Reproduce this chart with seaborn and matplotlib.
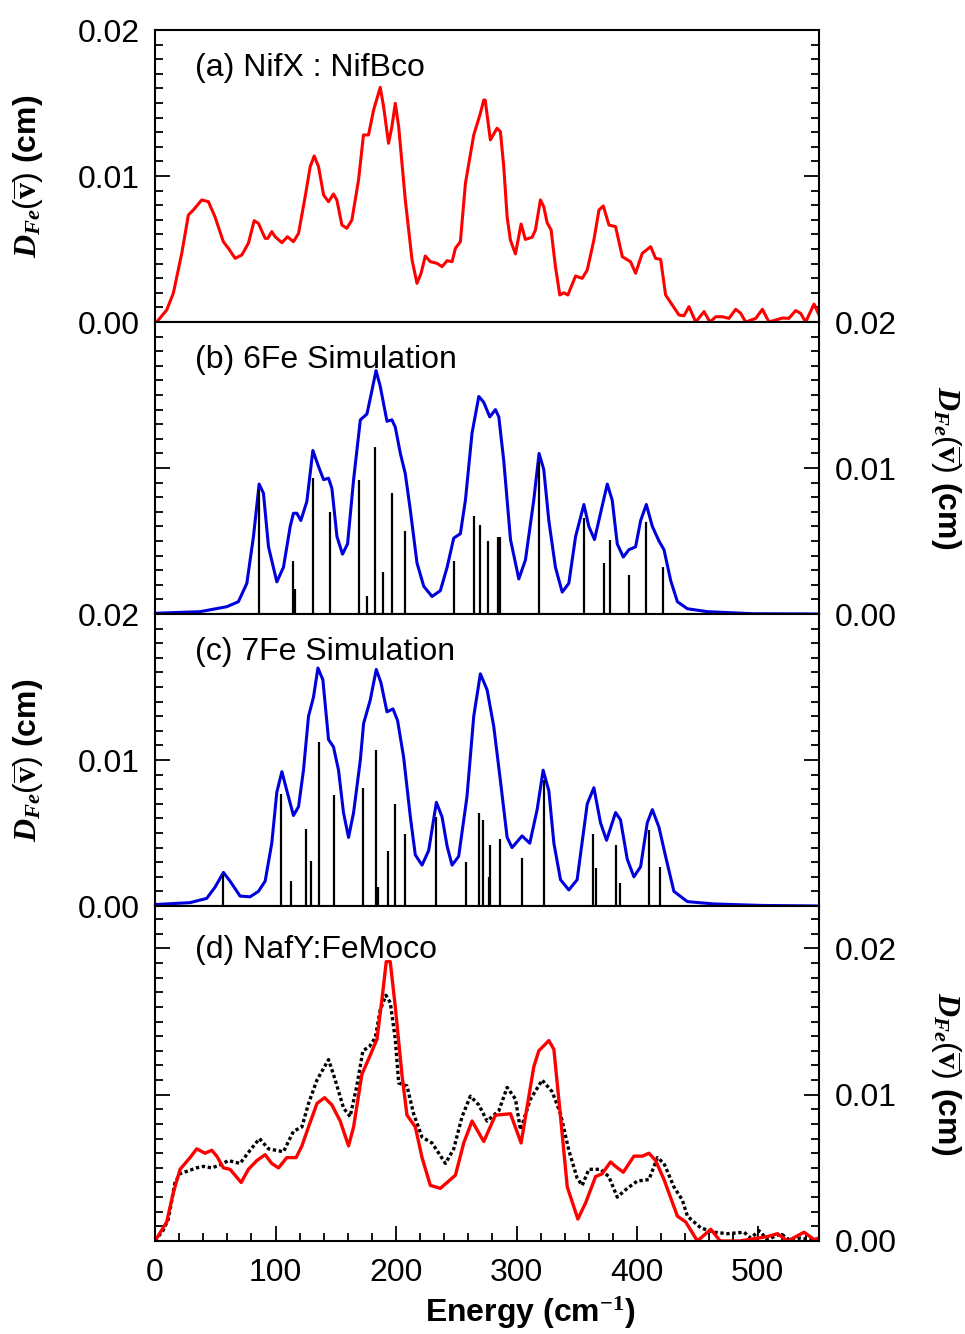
import matplotlib
matplotlib.use("Agg")
import matplotlib.pyplot as plt
from matplotlib.ticker import MultipleLocator, FormatStrFormatter
import numpy as np
import pandas as pd
import seaborn as sns

# ---------------- (a) NifX : NifBco, measured PVDOS ----------------
nifx_energy = [1.4, 9.7, 15.2, 22.2, 27.7, 31.8, 38.8, 44.3, 49.8, 56.7, 60.9, 66.5, 72.0, 77.5,
               82.3, 85.8, 91.4, 93.6, 96.9, 99.7, 105.3, 109.9, 114.9, 119.1, 124.6, 128.8, 132.1,
               135.7, 139.9, 144.0, 148.1, 150.9, 155.1, 159.2, 163.4, 168.9, 173.0, 177.2, 181.4,
               186.9, 189.7, 193.8, 196.6, 199.4, 202.2, 207.7, 213.3, 217.4, 220.8, 224.3, 228.5,
               234.0, 238.2, 242.4, 246.5, 249.3, 253.4, 257.6, 264.5, 270.0, 272.8, 274.0, 278.3,
               283.8, 286.6, 289.4, 292.2, 294.9, 299.1, 303.8, 307.3, 312.9, 315.7, 319.8, 322.6,
               325.4, 328.7, 332.3, 335.9, 339.3, 342.6, 349.0, 354.5, 358.7, 364.2, 368.4, 372.0,
               376.7, 382.2, 387.8, 394.6, 398.8, 404.3, 411.3, 415.4, 419.6, 423.7, 429.3, 434.8,
               439.0, 443.1, 448.7, 455.6, 460.5, 465.3, 470.8, 476.3, 481.9, 486.0, 490.2, 498.5,
               504.0, 509.5, 520.6, 526.0, 531.6, 535.7, 539.9, 546.9, 551.0]
nifx_pvdos = [0.0, 0.00082, 0.00197, 0.0047, 0.00733, 0.00767, 0.00836, 0.00824, 0.0072, 0.0055,
              0.00505, 0.00436, 0.00459, 0.00539, 0.00694, 0.00676, 0.00573, 0.00573, 0.00619,
              0.00584, 0.00543, 0.00584, 0.0055, 0.00607, 0.00858, 0.01064, 0.01137, 0.01064,
              0.0087, 0.00824, 0.00877, 0.00836, 0.00664, 0.00642, 0.00699, 0.00973, 0.01281,
              0.01281, 0.01452, 0.01607, 0.01475, 0.01224, 0.01338, 0.01498, 0.01338, 0.00836,
              0.00425, 0.00265, 0.00334, 0.00452, 0.00413, 0.00402, 0.00379, 0.0042, 0.00413,
              0.00505, 0.0055, 0.0095, 0.01281, 0.01429, 0.0152, 0.0152, 0.01247, 0.01327, 0.01304,
              0.01064, 0.0072, 0.00562, 0.00466, 0.00671, 0.00566, 0.0058, 0.0063, 0.00836, 0.0079,
              0.0068, 0.0063, 0.00379, 0.00185, 0.002, 0.00185, 0.00315, 0.00299, 0.00356, 0.00562,
              0.00767, 0.00795, 0.00664, 0.00653, 0.00447, 0.00413, 0.00334, 0.0047, 0.00516,
              0.00436, 0.00429, 0.00185, 0.00116, 0.00048, 0.00043, 0.00105, 0.0, 0.00071, 0.0,
              0.00036, 0.00036, 0.00025, 0.00087, 0.0006, 0.0, 0.00025, 0.00087, 0.0, 0.00027,
              0.00025, 0.00078, 0.0006, 0.0, 0.00123, 0.00048]

# ---------------- (b) 6Fe simulation ----------------
sim6_energy = [0.0, 37.4, 59.6, 69.2, 76.2, 81.7, 86.4, 90.0, 94.2, 101.1, 106.6, 112.2, 114.9,
               117.7, 121.0, 126.0, 131.0, 135.7, 139.9, 144.0, 146.8, 151.0, 155.6, 159.8, 164.8,
               170.4, 175.9, 180.0, 183.4, 186.9, 192.5, 196.6, 199.4, 203.6, 207.7, 211.9, 217.4,
               223.0, 229.9, 236.8, 242.4, 247.9, 253.4, 257.6, 263.1, 268.7, 272.8, 277.8, 282.5,
               285.3, 289.4, 295.0, 301.9, 307.4, 314.3, 318.7, 322.6, 326.8, 332.3, 337.9, 343.4,
               349.0, 355.9, 360.0, 364.7, 369.7, 375.3, 379.4, 383.6, 388.6, 393.2, 398.8, 403.0,
               407.7, 412.7, 418.2, 422.4, 427.9, 433.5, 441.8, 458.4, 496.0, 551.0]
sim6_pvdos = [0.00005, 0.00016, 0.0005, 0.00084, 0.0021, 0.0053, 0.0089, 0.00827, 0.0046, 0.0022,
              0.0032, 0.006, 0.0069, 0.0069, 0.0064, 0.0077, 0.0112, 0.0101, 0.0092, 0.0093,
              0.0086, 0.0053, 0.0041, 0.0048, 0.0092, 0.0133, 0.0137, 0.0153, 0.01667, 0.0156,
              0.0132, 0.0133, 0.0128, 0.011, 0.0096, 0.0071, 0.0035, 0.0019, 0.0012, 0.0016,
              0.0032, 0.0052, 0.0055, 0.0078, 0.0124, 0.0149, 0.0145, 0.0135, 0.014, 0.0135,
              0.0105, 0.0051, 0.0024, 0.0037, 0.0078, 0.011, 0.0099, 0.0064, 0.0032, 0.0015,
              0.0021, 0.0053, 0.0075, 0.006, 0.0051, 0.0069, 0.0089, 0.0078, 0.0048, 0.0039,
              0.0044, 0.0046, 0.0064, 0.0075, 0.006, 0.005, 0.0044, 0.0023, 0.00084, 0.00036,
              0.00016, 0.00002, 0.0]
modes6_energy = [86.4, 114.9, 116.3, 131.0, 144.9, 169.5, 175.9, 182.8, 189.2, 196.9, 207.2,
                 248.4, 264.5, 270.0, 276.1, 284.4, 286.0, 319.0, 355.9, 372.5, 377.2, 393.5,
                 407.7, 421.2]
modes6_weight = [0.0085, 0.00365, 0.0017, 0.0093, 0.007, 0.0092, 0.0012, 0.01146, 0.0029, 0.0083,
                 0.0057, 0.00365, 0.0067, 0.0061, 0.005, 0.0053, 0.0053, 0.0104, 0.0066, 0.0035,
                 0.0051, 0.0027, 0.0063, 0.0032]

# ---------------- (c) 7Fe simulation ----------------
sim7_energy = [0.0, 29.1, 42.9, 49.9, 56.8, 62.3, 70.6, 78.9, 85.8, 91.4, 96.9, 101.1, 105.3,
               109.4, 114.9, 119.1, 123.2, 127.4, 131.5, 135.2, 139.3, 144.0, 148.1, 152.3, 156.4,
               160.6, 164.8, 170.4, 173.1, 178.6, 183.6, 187.5, 192.5, 197.5, 201.3, 206.3, 211.9,
               216.0, 221.6, 227.1, 233.5, 238.2, 242.4, 246.5, 252.0, 258.9, 264.5, 270.0, 275.6,
               281.1, 286.6, 292.2, 296.3, 304.6, 311.0, 317.1, 322.1, 326.8, 331.0, 336.5, 343.4,
               350.3, 358.7, 364.2, 369.7, 374.7, 382.2, 386.3, 391.9, 397.4, 403.0, 408.5, 412.7,
               418.2, 423.7, 430.6, 441.8, 463.9, 502.7, 551.0]
sim7_pvdos = [0.0001, 0.00023, 0.00052, 0.0013, 0.0023, 0.0017, 0.00068, 0.00063, 0.001, 0.0017,
              0.0043, 0.0078, 0.0092, 0.0079, 0.0062, 0.0068, 0.0093, 0.013, 0.0143, 0.0163,
              0.0155, 0.0114, 0.0109, 0.0093, 0.0064, 0.0047, 0.0064, 0.01, 0.0125, 0.0141, 0.0162,
              0.0153, 0.0133, 0.0135, 0.0127, 0.0102, 0.0061, 0.0035, 0.0028, 0.0038, 0.0071,
              0.0061, 0.0041, 0.0028, 0.0034, 0.0075, 0.013, 0.0159, 0.0148, 0.0123, 0.0086,
              0.0047, 0.004, 0.0048, 0.0043, 0.0066, 0.0093, 0.0079, 0.0043, 0.0018, 0.0011,
              0.0018, 0.007, 0.0081, 0.0057, 0.0045, 0.0064, 0.0059, 0.0032, 0.002, 0.0027,
              0.0057, 0.0066, 0.0054, 0.0034, 0.001, 0.0003, 0.00014, 0.00004, 0.0]
modes7_energy = [56.8, 104.4, 113.0, 125.2, 129.6, 135.7, 148.7, 172.5, 183.4, 185.0, 193.0,
                 199.4, 207.2, 233.2, 257.8, 268.7, 272.0, 277.0, 278.4, 286.1, 304.6, 322.6,
                 363.6, 365.6, 382.7, 385.5, 410.2, 418.7]
modes7_weight = [0.0021, 0.0077, 0.0017, 0.0053, 0.0031, 0.0112, 0.0076, 0.0081, 0.0107, 0.0013,
                 0.0038, 0.007, 0.0049, 0.0061, 0.003, 0.0064, 0.0059, 0.002, 0.0042, 0.0046,
                 0.0033, 0.0086, 0.0049, 0.0026, 0.0042, 0.0016, 0.0052, 0.0027]

# ---------------- (d) NafY:FeMoco (solid) with dotted comparison ----------------
nafy_energy = [0.0, 9.7, 15.2, 20.8, 29.1, 34.6, 41.5, 47.1, 51.3, 56.8, 62.3, 71.5, 77.5, 84.5,
               91.4, 96.9, 102.5, 109.4, 117.1, 121.9, 127.4, 134.4, 140.7, 146.8, 153.7, 160.6,
               164.8, 171.7, 178.6, 184.2, 188.3, 191.9, 195.2, 199.4, 205.0, 209.1, 216.0, 221.6,
               228.5, 236.8, 242.4, 249.3, 256.2, 263.1, 272.8, 282.5, 295.0, 303.8, 314.3, 318.5,
               326.8, 331.0, 336.5, 342.1, 350.9, 357.3, 365.6, 371.1, 378.0, 382.2, 388.6, 397.4,
               404.4, 409.9, 415.4, 422.4, 433.5, 440.4, 450.1, 461.2, 469.0, 485.0, 508.2, 516.5,
               525.0, 538.6, 546.9, 551.0]
nafy_pvdos = [0.0, 0.0013, 0.0033, 0.0049, 0.0057, 0.0063, 0.006, 0.0062, 0.0058, 0.005, 0.0049,
              0.004, 0.0049, 0.0055, 0.0059, 0.0053, 0.005, 0.0057, 0.0057, 0.0065, 0.0078, 0.0094,
              0.0098, 0.0093, 0.0082, 0.0065, 0.0078, 0.0114, 0.0127, 0.0138, 0.0165, 0.0191,
              0.0191, 0.016, 0.0113, 0.0086, 0.0078, 0.0057, 0.0038, 0.0036, 0.004, 0.0045, 0.0067,
              0.0082, 0.0068, 0.0086, 0.0087, 0.0067, 0.0119, 0.013, 0.0137, 0.0131, 0.0085,
              0.0037, 0.0015, 0.0026, 0.0044, 0.0046, 0.0054, 0.0051, 0.0047, 0.0058, 0.0058,
              0.006, 0.0055, 0.0042, 0.0017, 0.0013, 0.0, 0.0008, 0.0, 0.0, 0.0003, 0.0005, 0.0,
              0.0006, 0.0001, 0.0002]
ref_energy = [0.0, 6.9, 11.1, 16.6, 20.8, 27.7, 34.6, 40.1, 47.1, 54.0, 60.9, 70.6, 78.9, 86.7,
              94.2, 106.6, 114.9, 121.9, 127.4, 134.4, 144.0, 149.6, 156.4, 161.9, 167.5, 172.5,
              178.0, 182.8, 186.9, 191.6, 195.2, 199.4, 202.2, 209.1, 214.6, 221.6, 229.9, 235.5,
              241.0, 247.9, 254.8, 261.7, 268.7, 275.6, 285.3, 292.2, 299.1, 303.3, 311.6, 321.3,
              329.6, 336.5, 343.4, 350.3, 354.5, 360.0, 369.7, 376.6, 383.6, 391.9, 400.2, 409.9,
              416.9, 422.4, 430.6, 437.6, 441.8, 452.8, 463.9, 475.0, 488.8, 494.4, 501.3, 508.2,
              519.3, 527.6, 535.9, 549.8]
ref_pvdos = [0.0, 0.00075, 0.0015, 0.004, 0.0046, 0.0048, 0.005, 0.0051, 0.005, 0.0052, 0.0055,
             0.0053, 0.0062, 0.007, 0.0063, 0.0061, 0.0075, 0.0078, 0.0094, 0.011, 0.0124, 0.011,
             0.0091, 0.0085, 0.0106, 0.013, 0.0133, 0.0139, 0.0158, 0.0168, 0.0163, 0.0138,
             0.0108, 0.0106, 0.0087, 0.0071, 0.0067, 0.006, 0.0053, 0.0063, 0.0085, 0.0099,
             0.0093, 0.0082, 0.0089, 0.0105, 0.0097, 0.0076, 0.0097, 0.011, 0.0102, 0.0087,
             0.0062, 0.0043, 0.0038, 0.0049, 0.0049, 0.0044, 0.003, 0.0036, 0.0041, 0.0042,
             0.0057, 0.0053, 0.0037, 0.0028, 0.0017, 0.0009, 0.0006, 0.0005, 0.0006, 0.0002,
             0.0007, 0.0001, 0.0005, 0.0, 0.0002, 0.0]

panel_titles = ["(a) NifX : NifBco", "(b) 6Fe Simulation", "(c) 7Fe Simulation", "(d) NafY:FeMoco"]
x_ticks = [0, 100, 200, 300, 400, 500]
x_label = r"Energy (cm$^{\mathbf{-1}}$)"
y_label = r"$D_{Fe}(\overline{\mathbf{v}})$ (cm)"

RED = "#ff0000"
BLUE = "#0000dd"
FS = 23

sns.set_style("ticks")
plt.rcParams["font.family"] = ["Liberation Sans", "DejaVu Sans"]
plt.rcParams.update({
    "mathtext.fontset": "custom",
    "mathtext.rm": "Liberation Sans",
    "mathtext.it": "Liberation Serif:italic:bold",
    "mathtext.bf": "Liberation Serif:bold",
    "axes.edgecolor": "black",
    "axes.linewidth": 1.5,
    "axes.labelcolor": "black",
    "text.color": "black",
    "xtick.color": "black",
    "ytick.color": "black",
})

W, H = 965, 1334
fig = plt.figure(figsize=(W / 100, H / 100), dpi=100)
gs = fig.add_gridspec(4, 1, height_ratios=[292, 292, 292, 335], hspace=0,
                      left=155 / W, right=819 / W, top=1 - 30 / H, bottom=1 - 1241 / H)
axes = [fig.add_subplot(gs[i]) for i in range(4)]


def curve(ax, x, y, **kw):
    df = pd.DataFrame({"energy": x, "pvdos": y})
    sns.lineplot(data=df, x="energy", y="pvdos", ax=ax, sort=False, estimator=None,
                 legend=False, **kw)


curve(axes[0], nifx_energy, nifx_pvdos, color=RED, lw=2.2)

curve(axes[1], sim6_energy, sim6_pvdos, color=BLUE, lw=2.2)
axes[1].vlines(modes6_energy, 0, modes6_weight, color="black", lw=1.6, zorder=3)

curve(axes[2], sim7_energy, sim7_pvdos, color=BLUE, lw=2.2)
axes[2].vlines(modes7_energy, 0, modes7_weight, color="black", lw=1.6, zorder=3)

curve(axes[3], ref_energy, ref_pvdos, color="black", lw=2.4, linestyle=(0, (1.0, 0.8)))
curve(axes[3], nafy_energy, nafy_pvdos, color=RED, lw=2.4)

ytops = [0.02, 0.02, 0.02, 0.0229]
label_right = [False, True, False, True]

for i, ax in enumerate(axes):
    ax.set_xlim(0, 551)
    ax.set_ylim(0, ytops[i])
    ax.xaxis.set_major_locator(MultipleLocator(100))
    ax.xaxis.set_minor_locator(MultipleLocator(20))
    ax.yaxis.set_major_locator(MultipleLocator(0.01))
    ax.yaxis.set_minor_locator(MultipleLocator(0.001))
    ax.yaxis.set_major_formatter(FormatStrFormatter("%.2f"))
    last = i == 3
    ax.tick_params(axis="both", which="both", direction="in", width=1.3,
                   left=True, right=True, top=False, bottom=last,
                   labelleft=not label_right[i], labelright=label_right[i],
                   labelbottom=last, labelsize=FS)
    ax.tick_params(axis="both", which="major", length=11, pad=11)
    ax.tick_params(axis="both", which="minor", length=6)
    ax.set_xlabel("")
    ax.set_ylabel("")
    for s in ax.spines.values():
        s.set_visible(True)
        s.set_linewidth(1.5)
        s.set_color("black")
    ax.text(0.06, 0.87, panel_titles[i], transform=ax.transAxes, va="center", ha="left",
            fontsize=FS)
    if label_right[i]:
        ax.yaxis.set_label_position("right")
        ax.set_ylabel(y_label, fontsize=FS, fontweight="bold", rotation=270, va="bottom")
        ax.yaxis.set_label_coords(1.166, 0.5)
    else:
        ax.set_ylabel(y_label, fontsize=FS, fontweight="bold")
        ax.yaxis.set_label_coords(-0.165, 0.5)

axes[3].tick_params(axis="x", which="major", pad=12)
axes[3].set_xticks(x_ticks)
axes[3].set_xlabel(x_label, fontsize=FS, fontweight="bold")
axes[3].xaxis.set_label_coords(0.565, -0.16)

fig.savefig("out.png", dpi=100)
